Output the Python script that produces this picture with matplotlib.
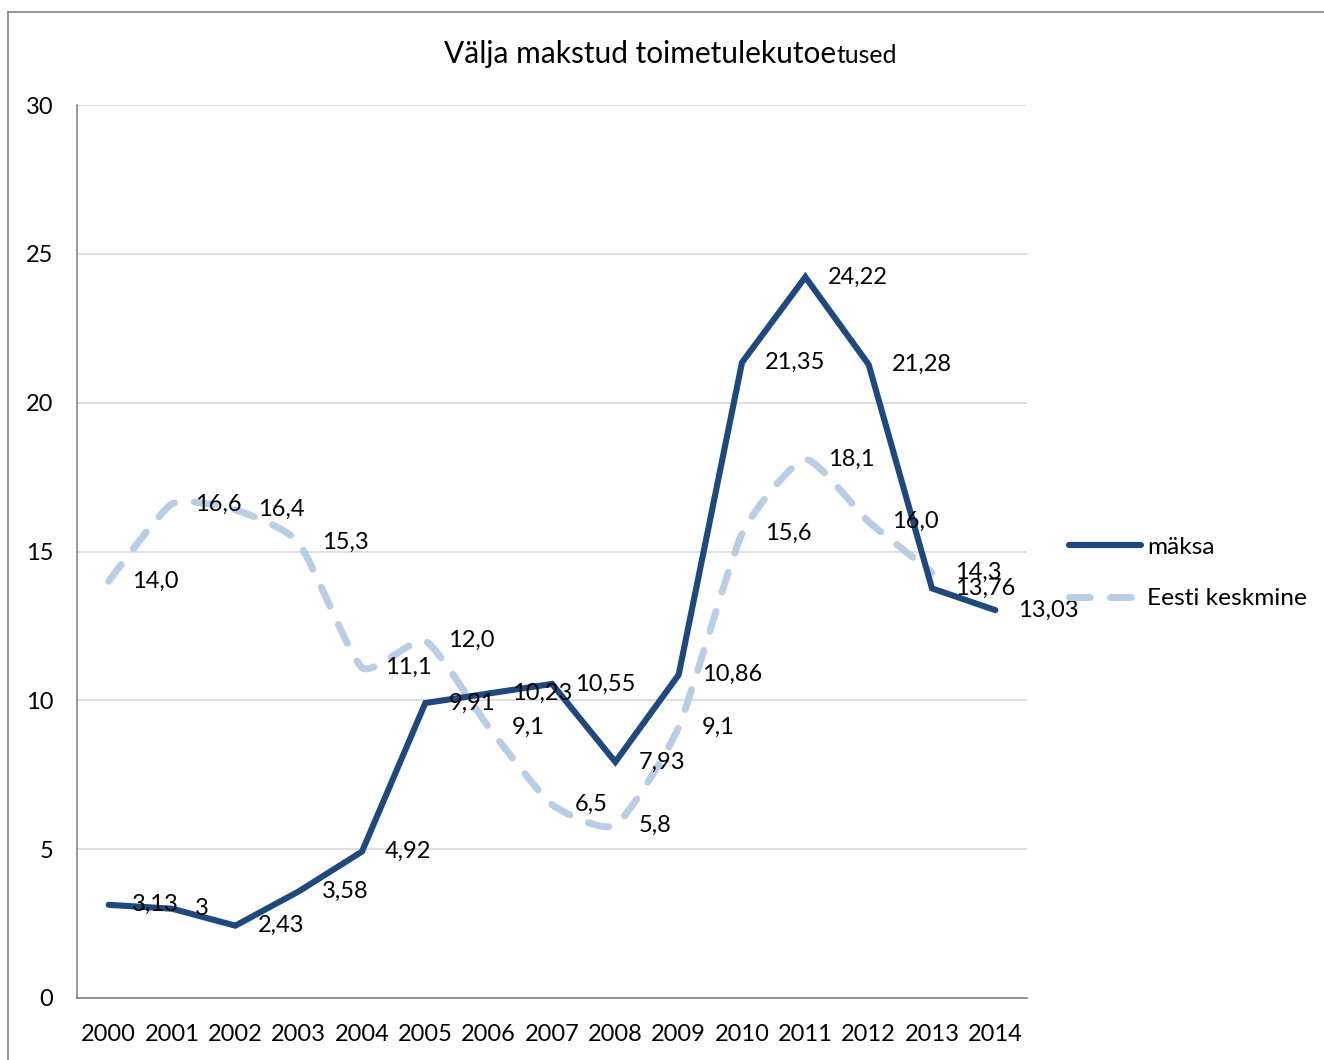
import numpy as np
import matplotlib
matplotlib.use('Agg')
import matplotlib.pyplot as plt
from matplotlib.path import Path
from matplotlib.patches import PathPatch
from matplotlib.lines import Line2D

plt.rcParams['font.family'] = ['Lato', 'DejaVu Sans']

# =============================================================================
# Data
# =============================================================================

years = ['2000', '2001', '2002', '2003', '2004', '2005', '2006', '2007',
         '2008', '2009', '2010', '2011', '2012', '2013', '2014']

maksa = [3.13, 3.0, 2.43, 3.58, 4.92, 9.91, 10.23, 10.55, 7.93, 10.86,
         21.35, 24.22, 21.28, 13.76, 13.03]

# Eesti keskmine has no value for 2014
eesti = [14.0, 16.6, 16.4, 15.3, 11.1, 12.0, 9.1, 6.5, 5.8, 9.1,
         15.6, 18.1, 16.0, 14.3]

title_main = 'Välja makstud toimetulekutoe'
title_tail = 'tused'

dark = '#1F497D'
light = '#B9CDE5'
grid_col = '#D9D9D9'
axis_col = '#868686'

# =============================================================================
# Plot
# =============================================================================

W, H = 1324, 1060
fig = plt.figure(figsize=(W / 100, H / 100), dpi=100)
ax = fig.add_axes([77 / W, 62 / H, 950 / W, 893 / H])

x_m = np.arange(len(maksa))
x_e = np.arange(len(eesti))

dash = (0, (3.0, 2.9))

# solid series
ax.plot(x_m, maksa, color=dark, lw=4.4, solid_capstyle='round',
        solid_joinstyle='miter', zorder=3)

# smoothed dashed series (bezier between the points, mild tension)
pts = np.column_stack([x_e, eesti]).astype(float)
verts = [pts[0]]
codes = [Path.MOVETO]
for i in range(len(pts) - 1):
    p0 = pts[i - 1] if i > 0 else pts[i]
    p1 = pts[i]
    p2 = pts[i + 1]
    p3 = pts[i + 2] if i + 2 < len(pts) else pts[i + 1]
    c1 = p1 + (p2 - p0) / 11
    c2 = p2 - (p3 - p1) / 11
    verts += [c1, c2, p2]
    codes += [Path.CURVE4] * 3
patch = PathPatch(Path(verts, codes), fill=False, edgecolor=light, lw=5.0,
                  linestyle=dash, capstyle='round', zorder=2)
ax.add_patch(patch)

# data labels
for xi, v in zip(x_m, maksa):
    ax.annotate(f'{v:g}'.replace('.', ','), (xi, v), xytext=(23, 0),
                textcoords='offset pixels', ha='left', va='center',
                fontsize=17, color='black', zorder=4)
for xi, v in zip(x_e, eesti):
    ax.annotate(f'{v:.1f}'.replace('.', ','), (xi, v), xytext=(23, 0),
                textcoords='offset pixels', ha='left', va='center',
                fontsize=17, color='black', zorder=4)

ax.set_xlim(-0.5, len(years) - 0.5)
ax.set_ylim(0, 30)
ax.set_xticks(x_m)
ax.set_xticklabels(years)
ax.set_yticks(np.arange(0, 31, 5))
ax.tick_params(axis='both', length=0, labelsize=17)
ax.tick_params(axis='y', pad=17)
ax.tick_params(axis='x', pad=19)

ax.grid(axis='y', color=grid_col, lw=1.2)
ax.set_axisbelow(True)
for s in ['top', 'right']:
    ax.spines[s].set_visible(False)
for s in ['left', 'bottom']:
    ax.spines[s].set_color(axis_col)
    ax.spines[s].set_linewidth(1.2)

# legend
handles = [Line2D([], [], color=dark, lw=4.4, solid_capstyle='round'),
           Line2D([], [], color=light, lw=5.0, linestyle=dash,
                  dash_capstyle='round')]
ax.legend(handles, ['mäksa', 'Eesti keskmine'], loc='center left',
          bbox_to_anchor=(1059 / W, (H - 573) / H), bbox_transform=fig.transFigure,
          frameon=False, fontsize=17.6, handlelength=2.95, handletextpad=0.25,
          labelspacing=1.25, borderaxespad=0)

# title with the smaller tail
t1 = fig.text(444 / W, 1 - 63 / H, title_main, fontsize=21.5, va='baseline', ha='left')
fig.canvas.draw()
ext = t1.get_window_extent()
fig.text(ext.x1 / W, 1 - 63 / H, title_tail, fontsize=17.8, va='baseline', ha='left')

# outer border (top and left edges)
fig.add_artist(Line2D([8 / W, 1], [1 - 12 / H, 1 - 12 / H], color=axis_col, lw=1.2))
fig.add_artist(Line2D([8 / W, 8 / W], [0, 1 - 12 / H], color=axis_col, lw=1.2))

fig.savefig('out.png', dpi=100)
